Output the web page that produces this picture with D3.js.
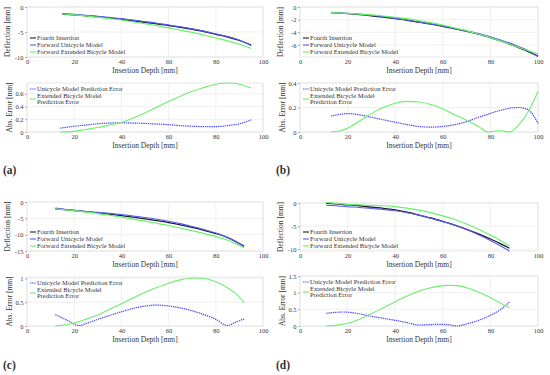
<!DOCTYPE html>
<html>
<head>
<meta charset="utf-8">
<script src="https://cdn.jsdelivr.net/npm/d3@7"></script>
<style>
  body { margin: 0; background: #fff; }
  text { font-family: "Liberation Serif", "DejaVu Serif", serif; fill: #333; }
</style>
</head>
<body>
<div id="my_dataviz"></div>
<script>
// data (deflection in mm, depth in mm)

// (a)
var depthA = [15,20,25,30,35,40,45,50,55,60,65,70,75,80,85,90,95]
var fourthA = [-1.4,-1.55,-1.75,-1.95,-2.2,-2.45,-2.75,-3.05,-3.35,-3.7,-4.05,-4.45,-4.9,-5.45,-6.0,-6.7,-7.6]
var unicycleA = [-1.34,-1.48,-1.66,-1.84,-2.07,-2.32,-2.62,-2.93,-3.24,-3.6,-3.96,-4.37,-4.83,-5.38,-5.93,-6.6,-7.75]
var bicycleA = [-1.4,-1.56,-1.79,-2.02,-2.31,-2.6,-2.97,-3.35,-3.74,-4.18,-4.61,-5.09,-5.6,-6.2,-6.77,-7.45,-8.3]
var errDepthA = [14,20,25,30,35,40,45,50,55,60,65,70,75,80,85,90,95]
var errUniA = [0.06,0.09,0.11,0.13,0.14,0.145,0.14,0.135,0.125,0.115,0.1,0.09,0.085,0.085,0.1,0.13,0.19]
var errBiA = [0,0.01,0.04,0.07,0.11,0.15,0.22,0.3,0.39,0.48,0.56,0.64,0.7,0.75,0.77,0.75,0.69]

// (b)
var depthB = [13,20,25,30,35,40,45,50,55,60,65,70,75,80,85,90,95,100]
var fourthB = [-0.9,-1.05,-1.2,-1.4,-1.6,-1.85,-2.1,-2.4,-2.7,-3.05,-3.45,-3.85,-4.3,-4.85,-5.45,-6.15,-6.9,-7.75]
var unicycleB = [-0.85,-1.0,-1.12,-1.3,-1.52,-1.78,-2.05,-2.36,-2.67,-3.0,-3.39,-3.77,-4.2,-4.72,-5.28,-5.97,-6.73,-7.85]
var bicycleB = [-0.9,-1.02,-1.12,-1.25,-1.42,-1.62,-1.85,-2.15,-2.48,-2.86,-3.31,-3.76,-4.26,-4.85,-5.44,-6.15,-6.77,-7.42]
var errDepthB = [13,17,20,25,30,35,40,45,50,55,60,65,70,75,79,82,85,88,92,96,100]
var errUniB = [0.13,0.145,0.15,0.14,0.12,0.1,0.08,0.06,0.045,0.04,0.045,0.06,0.085,0.12,0.145,0.165,0.18,0.195,0.2,0.18,0.07]
var errBiB = [0,0.01,0.03,0.09,0.15,0.2,0.235,0.25,0.245,0.225,0.19,0.14,0.095,0.045,0,0.008,0.01,0,0.06,0.17,0.33]

// (c)
var depthC = [12,16,20,25,30,35,40,45,50,55,60,65,70,75,80,85,90,92]
var fourthC = [-2.1,-2.35,-2.6,-2.95,-3.3,-3.7,-4.15,-4.65,-5.15,-5.7,-6.3,-7.0,-7.8,-8.65,-9.65,-10.9,-12.7,-13.5]
var unicycleC = [-1.86,-2.21,-2.55,-2.9,-3.16,-3.48,-3.85,-4.28,-4.73,-5.26,-5.88,-6.62,-7.48,-8.41,-9.51,-10.89,-12.81,-13.65]
var bicycleC = [-2.1,-2.37,-2.66,-3.08,-3.53,-4.05,-4.62,-5.24,-5.86,-6.51,-7.2,-7.97,-8.81,-9.65,-10.58,-11.7,-13.3,-14.0]
var errDepthC = [12,17,22,26,30,35,40,45,50,55,60,65,70,75,80,85,88,92]
var errUniC = [0.24,0.12,0.01,0.07,0.14,0.22,0.3,0.37,0.42,0.44,0.42,0.38,0.32,0.24,0.14,0.01,0.07,0.15]
var errBiC = [0,0.03,0.09,0.16,0.23,0.35,0.47,0.59,0.71,0.81,0.9,0.97,1.01,1.0,0.93,0.8,0.7,0.49]

// (d)
var depthD = [11,15,20,25,30,35,40,45,50,55,60,65,70,75,80,84,88]
var fourthD = [-0.1,-0.2,-0.4,-0.6,-0.9,-1.15,-1.5,-2.0,-2.6,-3.25,-4.0,-4.8,-5.7,-6.7,-7.8,-8.75,-9.8]
var unicycleD = [-0.48,-0.61,-0.81,-0.96,-1.19,-1.38,-1.67,-2.1,-2.63,-3.29,-4.04,-4.81,-5.76,-6.87,-8.12,-9.23,-10.4]
var bicycleD = [0.1,-0.1,-0.3,-0.4,-0.53,-0.6,-0.77,-1.1,-1.55,-2.1,-2.79,-3.58,-4.55,-5.68,-6.95,-8.05,-9.25]
var errDepthD = [11,15,18,22,26,30,35,40,45,50,54,58,62,66,70,75,80,84,88]
var errUniD = [0.38,0.41,0.42,0.4,0.35,0.29,0.23,0.17,0.1,0.03,0.04,0.05,0.04,0,0.06,0.17,0.32,0.48,0.72]
var errBiD = [0,0.02,0.05,0.12,0.23,0.37,0.55,0.73,0.9,1.05,1.13,1.19,1.22,1.21,1.15,1.02,0.85,0.7,0.55]

// axis ticks
var depthTicks = [0,20,40,60,80,100]
var ticksTopA = [0,-5,-10], ticksBotA = [0,0.2,0.4,0.6]
var ticksTopB = [0,-2,-4,-6], ticksBotB = [0,0.2,0.4]
var ticksTopC = [0,-5,-10,-15], ticksBotC = [0,0.5,1]
var ticksTopD = [0,-5,-10], ticksBotD = [0,0.5,1,1.5]

var legendTop = ["Fourth Insertion", "Forward Unicycle Model", "Forward Extended Bicycle Model"]
var panelLabels = ["(a)", "(b)", "(c)", "(d)"]

var BLACK = "#1c1c2a", BLUE = "#5a5af5", GREEN = "#66f266"

var svg = d3.select("#my_dataviz")
  .append("svg")
    .attr("width", 550)
    .attr("height", 375)

function zip(xs, ys) {
  return xs.map(function(x, i) { return [x, ys[i]]; });
}

// draws the frame, grid, ticks and labels of one axes box, returns the scales
function axesBox(x0, x1, y0, y1, yDomain, yTicks, yTitle, yTitleX) {
  var x = d3.scaleLinear().domain([0, 100]).range([x0, x1])
  var y = d3.scaleLinear().domain(yDomain).range([y1, y0])
  var g = svg.append("g")

  g.selectAll(".vg").data(depthTicks).enter().append("line")
    .attr("x1", function(d) { return x(d); }).attr("x2", function(d) { return x(d); })
    .attr("y1", y0).attr("y2", y1)
    .attr("stroke", "#ececec").attr("stroke-width", 0.8)
  g.selectAll(".hg").data(yTicks).enter().append("line")
    .attr("x1", x0).attr("x2", x1)
    .attr("y1", function(d) { return y(d); }).attr("y2", function(d) { return y(d); })
    .attr("stroke", "#ececec").attr("stroke-width", 0.8)
  g.append("rect")
    .attr("x", x0).attr("y", y0).attr("width", x1 - x0).attr("height", y1 - y0)
    .attr("fill", "none").attr("stroke", "#e2e2e2").attr("stroke-width", 0.8)

  var ya = d3.axisLeft(y).tickValues(yTicks).tickSize(2).tickPadding(1.5)
    .tickFormat(function(d) { return String(d); })
  var yg = g.append("g").attr("transform", "translate(" + x0 + ",0)").call(ya)
  yg.select(".domain").remove()
  yg.selectAll("line").attr("stroke", "#777").attr("stroke-width", 0.6)
  yg.selectAll("text").attr("font-size", 6.5).attr("fill", "#444")
    .attr("font-family", "Liberation Serif")

  var xa = d3.axisBottom(x).tickValues(depthTicks).tickSize(0).tickPadding(2.5)
    .tickFormat(function(d) { return String(d); })
  var xg = g.append("g").attr("transform", "translate(0," + y1 + ")").call(xa)
  xg.select(".domain").remove()
  xg.selectAll("text").attr("font-size", 6.5).attr("fill", "#444")
    .attr("font-family", "Liberation Serif")

  g.append("text")
    .attr("x", (x0 + x1) / 2).attr("y", y1 + 16)
    .attr("text-anchor", "middle").attr("font-size", 7.5)
    .text("Insertion Depth [mm]")
  g.append("text")
    .attr("transform", "translate(" + yTitleX + "," + ((y0 + y1) / 2) + ")rotate(-90)")
    .attr("text-anchor", "middle").attr("font-size", 7.5)
    .text(yTitle)

  return {x: x, y: y, g: g}
}

function drawLine(ax, pts, color, width, dash) {
  var line = d3.line()
    .x(function(d) { return ax.x(d[0]); })
    .y(function(d) { return ax.y(d[1]); })
    .curve(d3.curveMonotoneX)
  ax.g.append("path")
    .attr("d", line(pts))
    .attr("fill", "none")
    .attr("stroke", color)
    .attr("stroke-width", width)
    .attr("stroke-dasharray", dash || null)
}

function panel(p) {
  // upper axes: deflection
  var top = axesBox(p.x0, p.x1, p.top[0], p.top[1], p.topDomain, p.topTicks, "Deflection [mm]", p.x0 - 17)
  drawLine(top, zip(p.depth, p.fourth), BLACK, 1.3)
  drawLine(top, zip(p.depth, p.uni), BLUE, 1.1)
  drawLine(top, zip(p.depth, p.bi), GREEN, 1.2)

  var ly = p.top[1] - 19
  var cols = [BLACK, BLUE, GREEN]
  legendTop.forEach(function(t, i) {
    var yy = ly + i * 7
    top.g.append("line").attr("x1", p.x0 + 3).attr("x2", p.x0 + 9)
      .attr("y1", yy).attr("y2", yy).attr("stroke", cols[i]).attr("stroke-width", 1.1)
    top.g.append("text").attr("x", p.x0 + 10).attr("y", yy + 2)
      .attr("font-size", 6.5).text(t)
  })

  // lower axes: abs. error
  var bot = axesBox(p.x0, p.x1, p.bot[0], p.bot[1], p.botDomain, p.botTicks, "Abs. Error [mm]", p.x0 - 15)
  drawLine(bot, zip(p.errDepth, p.errUni), "#4b4bff", 1.2, "1.4,0.8")
  drawLine(bot, zip(p.errDepth, p.errBi), "#6cef6c", 1.1)

  var by = p.bot[0] + 6
  bot.g.append("line").attr("x1", p.x0 + 3).attr("x2", p.x0 + 9)
    .attr("y1", by).attr("y2", by).attr("stroke", "#4b4bff").attr("stroke-width", 1.2)
    .attr("stroke-dasharray", "1.4,0.8")
  bot.g.append("text").attr("x", p.x0 + 10).attr("y", by + 2)
    .attr("font-size", 6.5).text("Unicycle Model Prediction Error")
  bot.g.append("text").attr("x", p.x0 + 10).attr("y", by + 8.5)
    .attr("font-size", 6.5).text("Extended Bicycle Model")
  bot.g.append("line").attr("x1", p.x0 + 3).attr("x2", p.x0 + 9)
    .attr("y1", by + 10).attr("y2", by + 10).attr("stroke", "#6cef6c").attr("stroke-width", 1.1)
  bot.g.append("text").attr("x", p.x0 + 10).attr("y", by + 15)
    .attr("font-size", 6.5).text("Prediction Error")

  svg.append("text")
    .attr("x", p.x0 - 24).attr("y", p.label)
    .attr("font-family", "Noto Sans").attr("font-weight", "bold")
    .attr("font-size", 11.5).attr("fill", "#111")
    .text(p.name)
}

panel({name: panelLabels[0], x0: 27, x1: 263, top: [7, 57], bot: [83, 132], label: 174,
  topDomain: [-10, 0], topTicks: ticksTopA, botDomain: [0, 0.77], botTicks: ticksBotA,
  depth: depthA, fourth: fourthA, uni: unicycleA, bi: bicycleA,
  errDepth: errDepthA, errUni: errUniA, errBi: errBiA})

panel({name: panelLabels[1], x0: 300, x1: 538, top: [7, 57], bot: [83, 132], label: 174,
  topDomain: [-7.9, 0], topTicks: ticksTopB, botDomain: [0, 0.4], botTicks: ticksBotB,
  depth: depthB, fourth: fourthB, uni: unicycleB, bi: bicycleB,
  errDepth: errDepthB, errUni: errUniB, errBi: errBiB})

panel({name: panelLabels[2], x0: 27, x1: 263, top: [202, 251], bot: [277, 326], label: 369,
  topDomain: [-15, 0], topTicks: ticksTopC, botDomain: [0, 1.03], botTicks: ticksBotC,
  depth: depthC, fourth: fourthC, uni: unicycleC, bi: bicycleC,
  errDepth: errDepthC, errUni: errUniC, errBi: errBiC})

panel({name: panelLabels[3], x0: 300, x1: 538, top: [203, 251], bot: [276, 326], label: 369,
  topDomain: [-10.4, 0], topTicks: ticksTopD, botDomain: [0, 1.5], botTicks: ticksBotD,
  depth: depthD, fourth: fourthD, uni: unicycleD, bi: bicycleD,
  errDepth: errDepthD, errUni: errUniD, errBi: errBiD})
</script>
</body>
</html>
